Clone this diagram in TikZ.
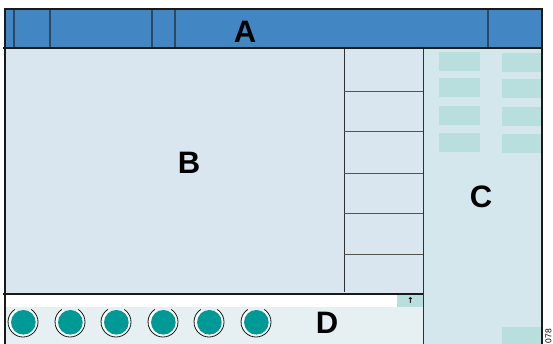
\documentclass[tikz,border=0pt]{standalone}
\usepackage{fontspec}
\setmainfont{Liberation Sans}
\newfontfamily\dejavu{DejaVu Sans}
\definecolor{hdrblue}{HTML}{4286C3}
\definecolor{bfill}{HTML}{D9E6EF}
\definecolor{cfill}{HTML}{D3E7EC}
\definecolor{dfill}{HTML}{E6F0F3}
\definecolor{tealbox}{HTML}{B8DFDD}
\definecolor{knob}{HTML}{009A96}
\definecolor{divline}{HTML}{2E4860}
\definecolor{frameline}{HTML}{1A1A1A}
\tikzset{
  frame/.style={draw=frameline, line width=1.2pt},
  hdiv/.style={draw=divline, line width=1.3pt},
  thin/.style={draw=frameline!90, line width=0.9pt},
  tbox/.style={fill=tealbox, draw=none},
  biglabel/.style={font=\bfseries\fontsize{31}{31}\selectfont, inner sep=0pt},
}
\begin{document}
\begin{tikzpicture}[x=1pt,y=-1pt]
\useasboundingbox (0,0) rectangle (553,344);
\clip (0,0) rectangle (553,344);
\fill[white] (0,0) rectangle (553,344);
% regions
\fill[hdrblue] (5,9) rectangle (542,48);
\fill[bfill] (5,48) rectangle (423,294);
\fill[cfill] (423,48) rectangle (542,350);
\fill[white] (5,294) rectangle (423,307);
\fill[dfill] (5,307) rectangle (423,350);
% teal boxes in C
\foreach \y in {52,78,106,133}{
  \fill[tealbox] (439,\y) rectangle (480,\y+19);
}
\foreach \y in {53,79,107,134}{
  \fill[tealbox] (502,\y) rectangle (542,\y+19);
}
\fill[tealbox] (502,327) rectangle (542,350);
% small arrow box in D
\fill[tealbox] (397,295) rectangle (423,307);
\node[inner sep=0pt, font=\dejavu\bfseries\fontsize{8}{8}\selectfont] (arrow) at (410.5,301) {↑};
% header dividers
\foreach \x in {14,50,152,175,488}{
  \draw[hdiv] (\x,9) -- (\x,48);
}
% B right-panel lines
\draw[thin] (344,48) -- (344,292);
\foreach \y in {91,131,173,213,254}{
  \draw[draw=frameline!75, line width=0.9pt] (344,\y) -- (423,\y);
}
\draw[thin] (423,48) -- (423,350);
% separators
\draw[frame] (3,48) -- (542,48);
\draw[frame] (3,294) -- (423,294);
% outer frame
\draw[frame] (5,350) -- (5,9) -- (542,9) -- (542,350);
% knobs
\foreach \i/\x in {1/23,2/70,3/116,4/163,5/209,6/256}{
  \draw[white, line width=2pt] (\x,322) ++(-60:13.4) arc (-60:240:13.4);
  \fill[knob] (\x+0.4,322.3) circle (12.3);
  \draw[frameline, line width=0.8pt] (\x,322) ++(-57:15) arc (-57:237:15);
}
% labels
\node[biglabel] (A) at (245,32) {A};
\node[biglabel] (B) at (189,163) {B};
\node[biglabel] (C) at (481,197) {C};
\node[biglabel] (D) at (327,323) {D};
\node[rotate=90, anchor=east, inner sep=0pt, font=\fontsize{8.5}{8.5}\selectfont] (code) at (548.5,329) {078};
\end{tikzpicture}
\end{document}
